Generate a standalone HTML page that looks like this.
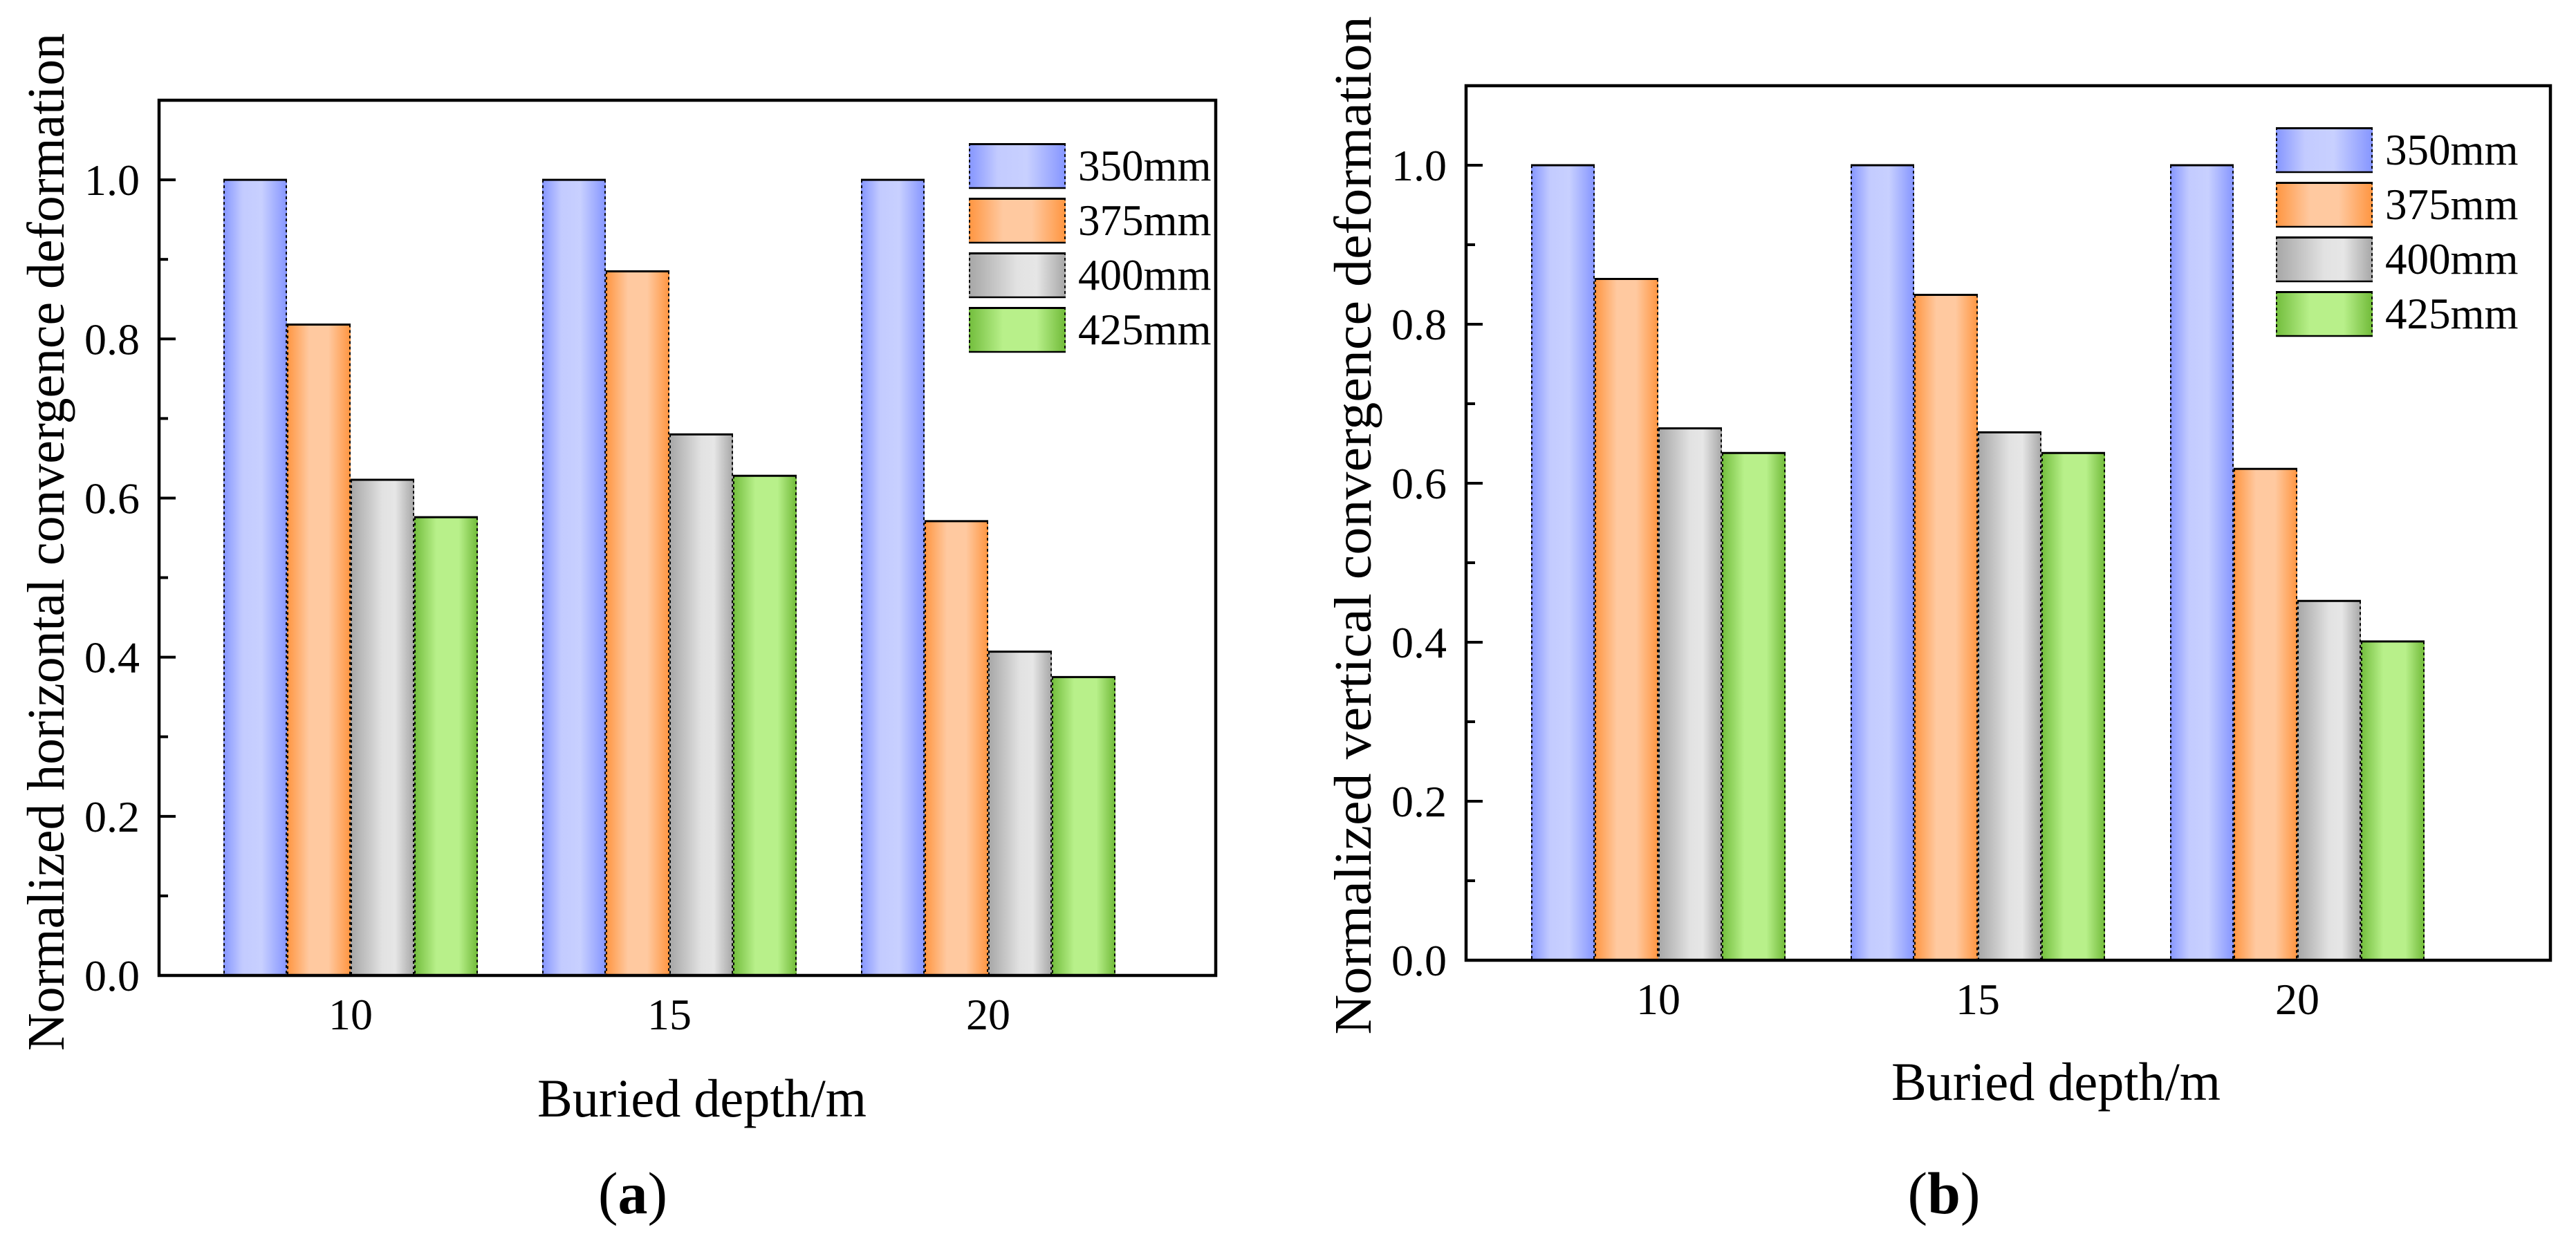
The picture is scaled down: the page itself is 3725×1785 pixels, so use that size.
<!DOCTYPE html>
<html><head><meta charset="utf-8"><style>
html,body{margin:0;padding:0;background:#fff;}
svg{display:block;}
text{font-family:"Liberation Serif",serif;fill:#000;}
</style></head><body>
<svg id="fig" width="3725" height="1785" xmlns="http://www.w3.org/2000/svg">
<defs>
<linearGradient id="gBlue"><stop offset="0" stop-color="#8595ff"/><stop offset="0.3" stop-color="#c3cbff"/><stop offset="0.6" stop-color="#c8d0ff"/><stop offset="1" stop-color="#8595ff"/></linearGradient>
<linearGradient id="gOrange"><stop offset="0" stop-color="#ff9540"/><stop offset="0.35" stop-color="#ffc9a0"/><stop offset="0.65" stop-color="#ffc9a0"/><stop offset="1" stop-color="#ff9540"/></linearGradient>
<linearGradient id="gGray"><stop offset="0" stop-color="#a6a6a6"/><stop offset="0.5" stop-color="#e2e2e2"/><stop offset="0.7" stop-color="#e6e6e6"/><stop offset="1" stop-color="#a6a6a6"/></linearGradient>
<linearGradient id="gGreen"><stop offset="0" stop-color="#72bd3c"/><stop offset="0.35" stop-color="#b8f08a"/><stop offset="0.7" stop-color="#b8f08a"/><stop offset="1" stop-color="#70ba38"/></linearGradient>
</defs>
</svg>
<script>
const categories = ["10", "15", "20"];
const seriesNames = ["350mm", "375mm", "400mm", "425mm"];
const horizA350 = [1.0, 1.0, 1.0];
const horizA375 = [0.818, 0.885, 0.571];
const horizA400 = [0.623, 0.680, 0.407];
const horizA425 = [0.576, 0.628, 0.375];
const vertB350 = [1.0, 1.0, 1.0];
const vertB375 = [0.857, 0.837, 0.618];
const vertB400 = [0.669, 0.664, 0.452];
const vertB425 = [0.638, 0.638, 0.401];
const yTickLabels = ["0.0", "0.2", "0.4", "0.6", "0.8", "1.0"];
const yMax = 1.1;

const NS = "http://www.w3.org/2000/svg";
const svg = document.getElementById("fig");
const fills = ["url(#gBlue)", "url(#gOrange)", "url(#gGray)", "url(#gGreen)"];

function mk(tag, attrs, parent, txt) {
  const e = document.createElementNS(NS, tag);
  for (const k in attrs) e.setAttribute(k, attrs[k]);
  if (txt !== undefined) e.textContent = txt;
  (parent || svg).appendChild(e);
  return e;
}

function drawChart(cfg) {
  const g = mk("g", {});
  
  
  const L = cfg.left, R = cfg.right, T = cfg.top, B = cfg.bottom;
  const y = v => B - v / yMax * (B - T);
  const barW = 92, groupStep = cfg.step;
  const groupStart = i => cfg.firstBar + i * groupStep;
  cfg.series.forEach((vals, s) => {
    vals.forEach((v, i) => {
      const x0 = groupStart(i) + s * barW, yt = y(v);
      const r = mk("rect", {x: x0, y: yt, width: barW, height: B - yt, fill: fills[s]}, g);
      
      
      mk("line", {x1: x0, y1: yt, x2: x0 + barW, y2: yt, stroke: "#000", "stroke-width": 3}, g);
      mk("line", {x1: x0 + 1, y1: yt, x2: x0 + 1, y2: B, stroke: "#000", "stroke-width": 2, "stroke-dasharray": "4 4"}, g);
      mk("line", {x1: x0 + barW - 1, y1: yt, x2: x0 + barW - 1, y2: B, stroke: "#000", "stroke-width": 2, "stroke-dasharray": "4 4"}, g);
    });
  });
  const fr = mk("rect", {x: L, y: T, width: R - L, height: B - T, fill: "none", stroke: "#000", "stroke-width": 4.5}, g);
  
  
  for (let k = 0; k <= 10; k++) {
    const v = k * 0.1, yy = y(v);
    const major = k % 2 === 0;
    mk("line", {x1: L, y1: yy, x2: L + (major ? 24 : 13), y2: yy, stroke: "#000", "stroke-width": 4}, g);
    if (major) {
      const t = mk("text", {x: L - 28, y: yy + 22, "font-size": 64, "text-anchor": "end"}, g, yTickLabels[k / 2]);
      
      
    }
  }
  categories.forEach((c, i) => {
    const cx = groupStart(i) + 2 * barW;
    const t = mk("text", {x: cx, y: B + 78, "font-size": 64, "text-anchor": "middle"}, g, c);
    
    
  });
  const xt = mk("text", {x: cfg.xTitleX, y: cfg.xTitleY, "font-size": 78, "text-anchor": "middle", textLength: 476, lengthAdjust: "spacingAndGlyphs"}, g, "Buried depth/m");
  
  
  const yt = mk("text", {x: 0, y: 0, "font-size": 76, "text-anchor": "middle", textLength: cfg.yTitleLen, lengthAdjust: "spacingAndGlyphs", transform: "translate(" + cfg.yTitleX + "," + cfg.yTitleCY + ") rotate(-90)"}, g, cfg.yTitle);
  
  
  const lg = mk("g", {}, g);
  
  
  seriesNames.forEach((n, s) => {
    const ly = cfg.legY + s * 79;
    const e = mk("g", {}, lg);
    
    
    mk("rect", {x: cfg.legX, y: ly, width: 140, height: 66, fill: fills[s]}, e);
    mk("line", {x1: cfg.legX, y1: ly + 1.5, x2: cfg.legX + 140, y2: ly + 1.5, stroke: "#000", "stroke-width": 3}, e);
    mk("line", {x1: cfg.legX, y1: ly + 65, x2: cfg.legX + 140, y2: ly + 65, stroke: "#000", "stroke-width": 2.5}, e);
    mk("line", {x1: cfg.legX + 1, y1: ly, x2: cfg.legX + 1, y2: ly + 66, stroke: "#000", "stroke-width": 2, "stroke-dasharray": "4 4"}, e);
    mk("line", {x1: cfg.legX + 139, y1: ly, x2: cfg.legX + 139, y2: ly + 66, stroke: "#000", "stroke-width": 2, "stroke-dasharray": "4 4"}, e);
    mk("text", {x: cfg.legX + 158, y: ly + 54, "font-size": 63}, e, n);
  });
  const pl = mk("text", {x: cfg.panelX, y: 1755, "font-size": 86, "text-anchor": "middle"}, g);
  
  
  mk("tspan", {}, pl, "(");
  mk("tspan", {"font-weight": "bold"}, pl, cfg.panel);
  mk("tspan", {}, pl, ")");
}

drawChart({name: "chart-a-horizontal", left: 230, right: 1758, top: 145, bottom: 1411, firstBar: 323, step: 461,
  series: [horizA350, horizA375, horizA400, horizA425],
  xTitleX: 1015, xTitleY: 1615, yTitle: "Normalized horizontal convergence deformation", yTitleX: 92, yTitleCY: 784, yTitleLen: 1472,
  legX: 1401, legY: 207, panelX: 915, panel: "a"});
drawChart({name: "chart-b-vertical", left: 2120, right: 3688, top: 124, bottom: 1389, firstBar: 2214, step: 462,
  series: [vertB350, vertB375, vertB400, vertB425],
  xTitleX: 2973, xTitleY: 1591, yTitle: "Normalized vertical convergence deformation", yTitleX: 1982, yTitleCY: 760, yTitleLen: 1473,
  legX: 3291, legY: 184, panelX: 2811, panel: "b"});
</script>
</body></html>
